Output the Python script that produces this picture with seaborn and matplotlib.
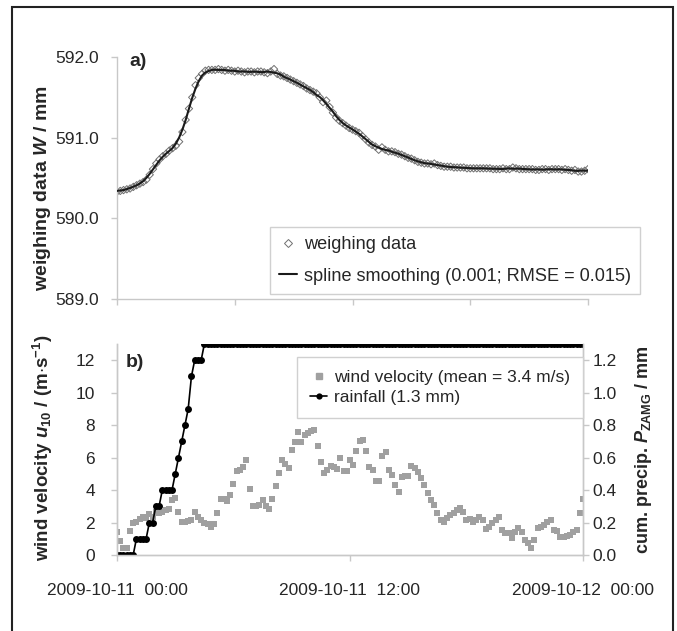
import numpy as np
import pandas as pd
import matplotlib
matplotlib.use('Agg')
import matplotlib.pyplot as plt
import seaborn as sns
from matplotlib.patches import Rectangle
from matplotlib.lines import Line2D

# ---------------- data (10-min steps, 2009-10-11 00:00 .. 2009-10-12 00:00) ----------------
step_minutes = 10

weighing = [
    590.33, 590.34, 590.35, 590.36, 590.37, 590.39,
    590.41, 590.43, 590.45, 590.48, 590.54, 590.61,
    590.68, 590.73, 590.77, 590.80, 590.84, 590.87,
    590.90, 590.95, 591.07, 591.22, 591.36, 591.50,
    591.65, 591.74, 591.79, 591.83, 591.84, 591.84,
    591.84, 591.85, 591.84, 591.83, 591.84, 591.83,
    591.82, 591.83, 591.82, 591.81, 591.82, 591.82,
    591.81, 591.82, 591.82, 591.81, 591.80, 591.82,
    591.85, 591.79, 591.77, 591.76, 591.74, 591.72,
    591.70, 591.68, 591.66, 591.64, 591.61, 591.59,
    591.57, 591.55, 591.50, 591.44, 591.46, 591.38,
    591.31, 591.25, 591.21, 591.18, 591.15, 591.12,
    591.10, 591.08, 591.06, 591.02, 590.98, 590.94,
    590.91, 590.89, 590.85, 590.88, 590.85, 590.83,
    590.83, 590.82, 590.80, 590.79, 590.77, 590.75,
    590.74, 590.72, 590.70, 590.69, 590.68, 590.68,
    590.67, 590.68, 590.66, 590.65, 590.64, 590.64,
    590.64, 590.63, 590.63, 590.63, 590.63, 590.62,
    590.62, 590.62, 590.62, 590.62, 590.62, 590.62,
    590.62, 590.61, 590.61, 590.61, 590.62, 590.61,
    590.61, 590.63, 590.62, 590.61, 590.61, 590.61,
    590.61, 590.61, 590.60, 590.60, 590.61, 590.61,
    590.60, 590.61, 590.61, 590.61, 590.60, 590.61,
    590.60, 590.59, 590.60, 590.58, 590.58, 590.59,
    590.61,
]

wind = [
    1.40, 0.89, 0.45, 0.45, 1.50, 1.96, 2.02, 2.23, 2.33, 2.27,
    2.54, 2.37, 2.62, 2.58, 2.68, 2.78, 2.84, 3.40, 3.50, 2.62,
    2.06, 2.02, 2.10, 2.16, 2.64, 2.37, 2.16, 2.00, 1.90, 1.75,
    1.92, 2.58, 3.46, 3.44, 3.30, 3.67, 4.37, 5.15, 5.26, 5.42,
    5.87, 4.08, 2.99, 2.99, 3.09, 3.40, 2.99, 2.82, 3.44, 4.27,
    5.05, 5.87, 5.63, 5.36, 6.45, 6.94, 7.56, 6.94, 7.42, 7.50,
    7.62, 7.73, 6.70, 5.71, 5.05, 5.26, 5.50, 5.40, 5.30, 5.98,
    5.15, 5.15, 5.83, 5.57, 6.39, 7.01, 7.07, 6.39, 5.42, 5.26,
    4.53, 4.53, 6.08, 6.33, 5.26, 4.95, 4.33, 3.91, 4.80, 4.89,
    4.84, 5.46, 5.36, 5.09, 4.74, 4.33, 3.81, 3.40, 3.09, 2.58,
    2.16, 2.06, 2.27, 2.47, 2.58, 2.78, 2.89, 2.68, 2.16, 2.21,
    2.06, 2.16, 2.37, 2.16, 1.59, 1.75, 1.96, 2.16, 2.37, 1.55,
    1.34, 1.38, 1.03, 1.44, 1.65, 1.44, 0.93, 0.72, 0.41, 0.93,
    1.65, 1.75, 1.86, 2.06, 2.16, 1.55, 1.50, 1.13, 1.09, 1.18,
    1.24, 1.44, 1.55, 2.58, 3.44,
]

rainfall_cum = ([0.0] * 6 + [0.1] * 4 + [0.2] * 2 + [0.3] * 2 + [0.4] * 4 +
                [0.5, 0.6, 0.7, 0.8, 0.9, 1.1] + [1.2] * 3 + [1.3] * 118)

xtick_hours = [0, 12, 24]
xtick_labels = ['2009-10-11  00:00', '2009-10-11  12:00', '2009-10-12  00:00']
top_xticks = [0, 6, 12, 18, 24]

legend_top = ['weighing data', 'spline smoothing (0.001; RMSE = 0.015)']
legend_bot = ['wind velocity (mean = 3.4 m/s)', 'rainfall (1.3 mm)']

# ---------------- frames ----------------
hours_w = np.arange(len(weighing)) * step_minutes / 60.0
df_a = pd.DataFrame({'hour': hours_w, 'W': weighing})
df_a['smooth'] = df_a['W'].rolling(5, center=True, min_periods=1).mean()

hours_b = np.arange(len(wind)) * step_minutes / 60.0
df_b = pd.DataFrame({'hour': hours_b, 'wind': wind, 'rain': rainfall_cum})

# ---------------- style ----------------
sns.set_theme(style='white')
plt.rcParams['font.family'] = ['Liberation Sans', 'DejaVu Sans']
plt.rcParams['mathtext.fontset'] = 'custom'
plt.rcParams['mathtext.rm'] = 'Liberation Sans:bold'
plt.rcParams['mathtext.it'] = 'Liberation Sans:italic:bold'
plt.rcParams['mathtext.bf'] = 'Liberation Sans:bold'
plt.rcParams['mathtext.bfit'] = 'Liberation Sans:italic:bold'

W, H = 677, 631
fig = plt.figure(figsize=(W / 100, H / 100), dpi=100)
fig.patch.set_facecolor('white')

spine_c = '#c8c8c8'
tick_txt = '#262626'
FS = 12.5

def px_axes(x0, x1, y0, y1):
    return fig.add_axes([x0 / W, 1 - y1 / H, (x1 - x0) / W, (y1 - y0) / H])

# ---------------- panel a ----------------
ax1 = px_axes(117, 588, 57, 299)
sns.scatterplot(data=df_a, x='hour', y='W', ax=ax1, marker='D', s=14,
                facecolor='none', edgecolor='#707070', linewidth=0.7, zorder=2, legend=False)
sns.lineplot(data=df_a, x='hour', y='smooth', ax=ax1, color='#1a1a1a', lw=1.5, zorder=3, legend=False)
ax1.set_xlim(0, 24)
ax1.set_ylim(589, 592)
ax1.set_yticks([589, 590, 591, 592])
ax1.set_yticklabels([f'{v:.1f}' for v in [589, 590, 591, 592]])
ax1.set_xticks(top_xticks)
ax1.set_xticklabels([])
ax1.set_xlabel('')
ax1.set_ylabel('')
for s in ['top', 'right']:
    ax1.spines[s].set_visible(False)
for s in ['left', 'bottom']:
    ax1.spines[s].set_color(spine_c)
    ax1.spines[s].set_linewidth(1.0)
ax1.tick_params(axis='both', direction='out', length=4, width=1, color=spine_c,
                labelsize=FS, labelcolor=tick_txt, pad=9, left=True, bottom=True)

h_top = [Line2D([], [], marker='D', ls='none', mfc='none', mec='#707070', mew=0.7, ms=4),
         Line2D([], [], color='#1a1a1a', lw=1.5)]
leg1 = fig.legend(h_top, legend_top, loc='upper left', bbox_to_anchor=(270 / W, 1 - 227 / H),
                  bbox_transform=fig.transFigure, fontsize=13.1, frameon=True, fancybox=False,
                  edgecolor='#d0d0d0', framealpha=1, handlelength=1.0, handletextpad=0.35,
                  labelspacing=0.8, borderpad=0.5, borderaxespad=0)
leg1.get_frame().set_linewidth(1.0)
for t in leg1.get_texts():
    t.set_color(tick_txt)

fig.text(129 / W, 1 - 53 / H, 'a)', fontsize=14, fontweight='bold', ha='left', va='top')
fig.text(43 / W, 1 - 188 / H, r'weighing data $W$ / mm', rotation=90, fontsize=14,
         fontweight='bold', ha='center', va='center')

# ---------------- panel b ----------------
ax2 = px_axes(117, 583, 344, 555)
sns.scatterplot(data=df_b, x='hour', y='wind', ax=ax2, marker='s', s=14, color='#a0a0a0',
                linewidth=0, legend=False, zorder=2)
ax2.set_xlim(0, 24)
ax2.set_ylim(0, 13)
ax2.set_yticks(range(0, 13, 2))
ax2.set_xticks(xtick_hours)
ax2.set_xticklabels(xtick_labels)
ax2.set_xlabel('')
ax2.set_ylabel('')

ax3 = ax2.twinx()
sns.lineplot(data=df_b, x='hour', y='rain', ax=ax3, color='black', lw=1.2, marker='o',
             markersize=5, markeredgewidth=0, legend=False)
ax3.set_ylim(0, 1.3)
ax3.set_yticks(np.arange(0, 1.21, 0.2))
ax3.set_yticklabels([f'{v:.1f}' for v in np.arange(0, 1.21, 0.2)])
ax3.set_ylabel('')
ax3.set_xlim(0, 24)

for a in (ax2, ax3):
    a.spines['top'].set_visible(False)
    for s in ['left', 'bottom', 'right']:
        a.spines[s].set_color(spine_c)
        a.spines[s].set_linewidth(1.0)
ax2.tick_params(axis='y', direction='out', length=4, width=1, color=spine_c,
                labelsize=FS, labelcolor=tick_txt, pad=12, left=True)
ax2.tick_params(axis='x', direction='out', length=4, width=1, color=spine_c,
                labelsize=FS, labelcolor=tick_txt, pad=16, bottom=True)
ax3.tick_params(axis='y', direction='out', length=4, width=1, color=spine_c,
                labelsize=FS, labelcolor=tick_txt, pad=3, right=True)

h_bot = [Line2D([], [], marker='s', ls='none', color='#a0a0a0', ms=4),
         Line2D([], [], color='black', lw=1.2, marker='o', ms=4.5, mew=0)]
leg2 = ax3.legend(h_bot, legend_bot, loc='upper left', bbox_to_anchor=(297 / W, 1 - 357 / H),
                  bbox_transform=fig.transFigure, fontsize=FS, frameon=True, fancybox=False,
                  edgecolor='#d0d0d0', framealpha=1, handlelength=1.0, handletextpad=0.4,
                  labelspacing=0.25, borderpad=0.75, borderaxespad=0)
leg2.get_frame().set_linewidth(1.0)
for t in leg2.get_texts():
    t.set_color(tick_txt)

fig.text(126 / W, 1 - 354 / H, 'b)', fontsize=14, fontweight='bold', ha='left', va='top')
fig.text(43 / W, 1 - 448 / H, r'wind velocity $u_{10}$ / (m$\cdot$s$^{-1}$)', rotation=90,
         fontsize=13.5, fontweight='bold', ha='center', va='center')
fig.text(643 / W, 1 - 450 / H, r'cum. precip. $P_{\mathrm{ZAMG}}$ / mm', rotation=90,
         fontsize=13, fontweight='bold', ha='center', va='center')

# ---------------- outer frame ----------------
fig.patches.append(Rectangle((12 / W, -0.05), (673 - 12) / W, 1 - 7 / H + 0.05,
                             transform=fig.transFigure, fill=False, edgecolor='#222222',
                             linewidth=1.5, clip_on=False))

fig.savefig('out.png', dpi=100)
